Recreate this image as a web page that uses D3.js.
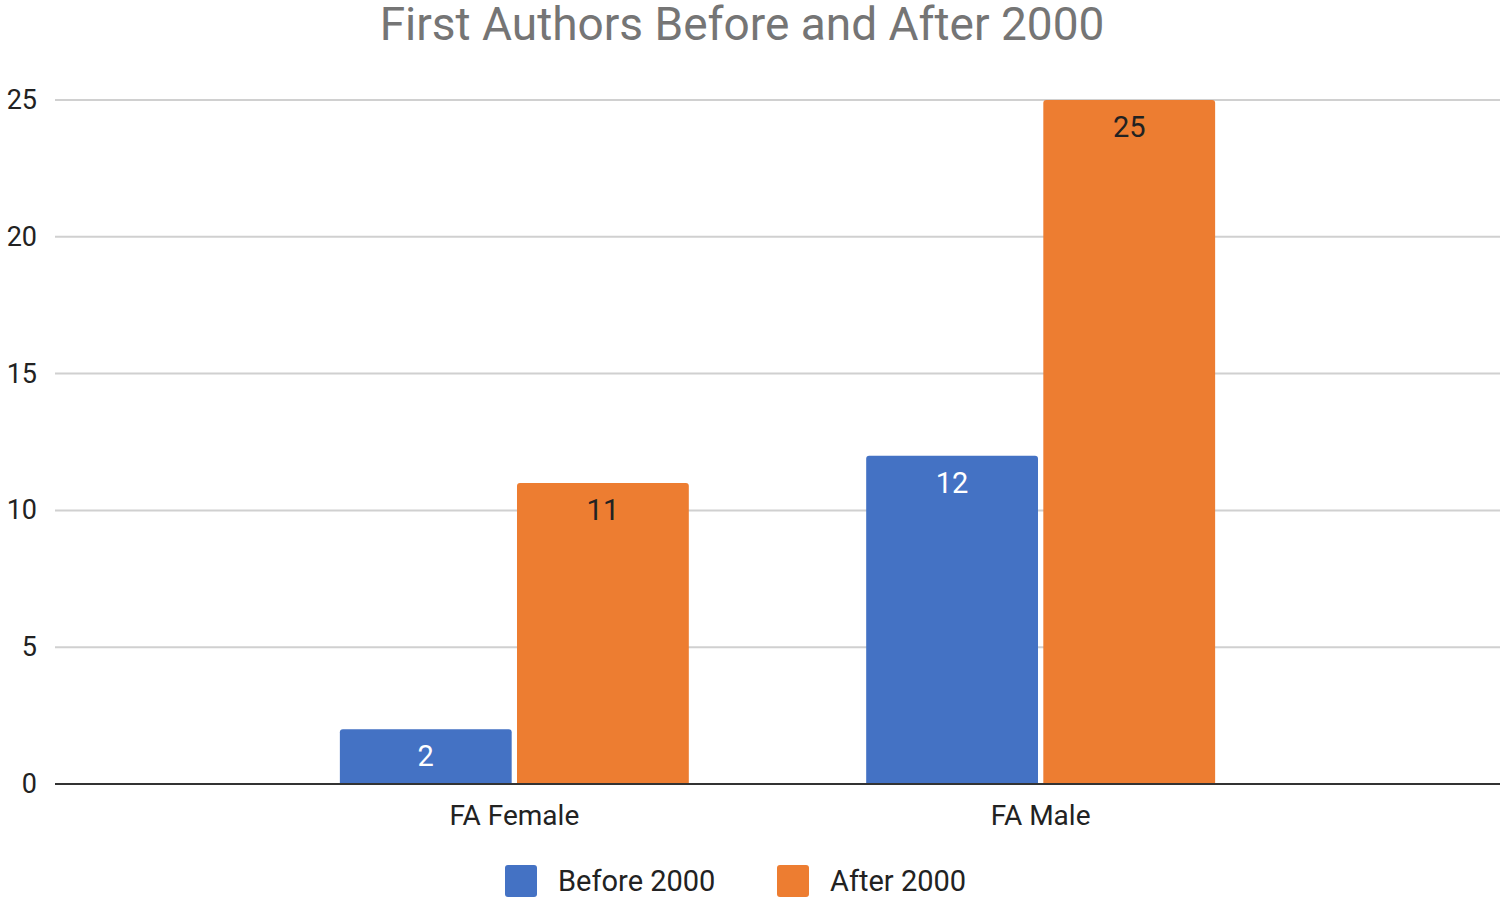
<!DOCTYPE html>
<html><head><meta charset="utf-8">
<script src="https://cdn.jsdelivr.net/npm/d3@7"></script>
<style>body{margin:0;background:#fff;font-family:Roboto,Arial,sans-serif}</style>
</head><body><svg id="chart" width="1502" height="900"></svg>
<script>
const categories = ["FA Female", "FA Male"];
const seriesNames = ["Before 2000", "After 2000"];
const before2000 = [2, 12];
const after2000 = [11, 25];
const yTicks = [0, 5, 10, 15, 20, 25];
const colors = ["#4472c4", "#ed7d31"];
const labelColors = ["#ffffff", "#222222"];

const svg = d3.select("#chart");
const plotLeft = 55, plotRight = 1500, plotTop = 100, plotBottom = 784;

const y = d3.scaleLinear().domain([0, 25]).range([plotBottom, plotTop]);
const x = d3.scaleBand().domain(categories).range([162.5, 1392.5]).padding(0.337);
const xs = d3.scaleBand().domain(seriesNames).range([0, x.bandwidth()]).paddingInner(0.03);

// title
svg.append("text").attr("x", 742).attr("y", 40).attr("text-anchor", "middle")
  .attr("font-size", 46).attr("fill", "#757575").text("First Authors Before and After 2000");

// grid
svg.selectAll(".grid").data(yTicks.filter(d => d > 0)).enter().append("line")
  .attr("x1", plotLeft).attr("x2", plotRight).attr("y1", d => y(d)).attr("y2", d => y(d))
  .attr("stroke", "#d0d0d0").attr("stroke-width", 2);
svg.selectAll(".ytick").data(yTicks).enter().append("text")
  .attr("x", 37).attr("y", d => y(d) + 9).attr("text-anchor", "end")
  .attr("font-size", 27).attr("fill", "#222").text(d => d);

// bars
const rows = categories.map((c, i) => [before2000[i], after2000[i]]);
const groups = svg.selectAll(".grp").data(categories).enter().append("g")
  .attr("transform", d => `translate(${x(d)},0)`);
groups.each(function (c, i) {
  const g = d3.select(this);
  rows[i].forEach((v, s) => {
    const bx = xs(seriesNames[s]), bw = xs.bandwidth(), by = y(v);
    g.append("path")
      .attr("d", `M${bx},${plotBottom} V${by + 3} Q${bx},${by} ${bx + 3},${by} H${bx + bw - 3} Q${bx + bw},${by} ${bx + bw},${by + 3} V${plotBottom} Z`)
      .attr("fill", colors[s]);
    g.append("text").attr("x", bx + bw / 2).attr("y", by + 37)
      .attr("text-anchor", "middle").attr("font-size", 29).attr("fill", labelColors[s]).text(v);
  });
  g.append("text").attr("x", x.bandwidth() / 2).attr("y", 825).attr("text-anchor", "middle")
    .attr("font-size", 28).attr("fill", "#222").text(c);
});

// baseline
svg.append("line").attr("x1", plotLeft).attr("x2", plotRight).attr("y1", plotBottom).attr("y2", plotBottom)
  .attr("stroke", "#333").attr("stroke-width", 2);

// legend
const legX = [505, 777];
seriesNames.forEach((n, s) => {
  svg.append("rect").attr("x", legX[s]).attr("y", 865).attr("width", 32).attr("height", 32)
    .attr("rx", 3).attr("fill", colors[s]);
  svg.append("text").attr("x", legX[s] + 53).attr("y", 891).attr("font-size", 29)
    .attr("fill", "#222").text(n);
});
</script></body></html>
